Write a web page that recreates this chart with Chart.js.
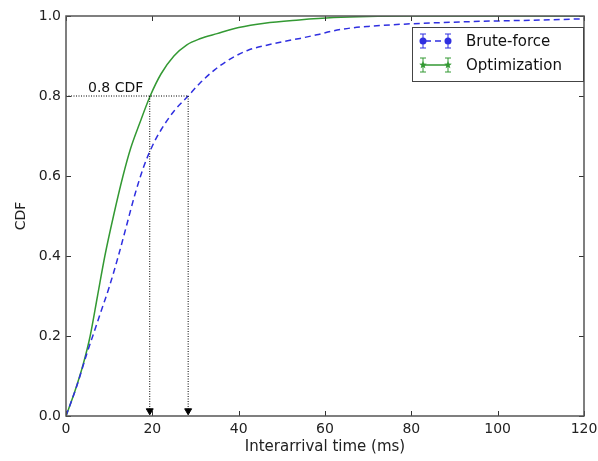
<!DOCTYPE html>
<html>
<head>
<meta charset="utf-8">
<script src="https://cdn.jsdelivr.net/npm/chart.js@4"></script>
<style>
  html, body { margin: 0; padding: 0; background: #fff; }
  #wrap { width: 598px; height: 461px; }
</style>
</head>
<body>
<div id="wrap"><canvas id="graph" width="598" height="461"></canvas></div>
<script>
// values
const optX = [0, 2, 4, 5.6, 7.3, 9, 11, 13.2, 15, 17, 19.5, 22, 25, 28, 31, 35, 40, 46, 54, 62, 70, 80, 120];
const optY = [0, 0.06, 0.13, 0.2, 0.3, 0.4, 0.5, 0.6, 0.67, 0.73, 0.8, 0.855, 0.9, 0.928, 0.943, 0.956, 0.971, 0.982, 0.99, 0.996, 0.999, 1.0, 1.0];

const bruteX = [0, 2.5, 4.8, 6.2, 8, 10, 12, 14, 16, 18, 20, 22, 25, 28.3, 31, 34.5, 38.3, 42.3, 46.5, 50.3, 54.2, 58.1, 62, 66, 70, 79, 94, 110, 120];
const bruteY = [0, 0.075, 0.155, 0.2, 0.258, 0.322, 0.395, 0.475, 0.555, 0.623, 0.675, 0.715, 0.762, 0.8, 0.832, 0.866, 0.894, 0.915, 0.927, 0.936, 0.944, 0.953, 0.963, 0.97, 0.974, 0.98, 0.986, 0.99, 0.993];

const xTicks = [0, 20, 40, 60, 80, 100, 120];
const yTicks = [0.0, 0.2, 0.4, 0.6, 0.8, 1.0];

const cdfLevel = 0.8;
const optAt80 = 19.4;
const bruteAt80 = 28.3;
const annotText = '0.8 CDF';

const FONT = 'DejaVu Sans';
const BLUE = '#2f2fe0';
const GREEN = '#339933';

function toPoints(xs, ys) {
    return xs.map((x, i) => ({ x: x, y: ys[i] }));
}

// inward ticks on all four sides plus the frame, matplotlib style
const framePlugin = {
    id: 'frame',
    afterDatasetsDraw(chart) {
        const ctx = chart.ctx;
        const a = chart.chartArea;
        const xs = chart.scales.x, ys = chart.scales.y;
        ctx.save();
        ctx.strokeStyle = '#333';
        ctx.lineWidth = 1;
        xTicks.forEach(v => {
            const px = Math.round(xs.getPixelForValue(v)) + 0.5;
            ctx.beginPath();
            ctx.moveTo(px, a.bottom); ctx.lineTo(px, a.bottom - 5);
            ctx.moveTo(px, a.top); ctx.lineTo(px, a.top + 5);
            ctx.stroke();
        });
        yTicks.forEach(v => {
            const py = Math.round(ys.getPixelForValue(v)) + 0.5;
            ctx.beginPath();
            ctx.moveTo(a.left, py); ctx.lineTo(a.left + 5, py);
            ctx.moveTo(a.right, py); ctx.lineTo(a.right - 5, py);
            ctx.stroke();
        });
        ctx.strokeStyle = '#555';
        ctx.lineWidth = 1.5;
        ctx.strokeRect(a.left, a.top, a.right - a.left, a.bottom - a.top);

        // annotation text
        ctx.fillStyle = '#111';
        ctx.font = '14px "' + FONT + '"';
        ctx.textBaseline = 'alphabetic';
        ctx.fillText(annotText, xs.getPixelForValue(5.1), ys.getPixelForValue(cdfLevel) - 4);

        // legend
        const bx = 412, by = 27, bw = 171, bh = 54;
        ctx.fillStyle = '#fff';
        ctx.fillRect(bx, by, bw, bh);
        ctx.strokeStyle = '#444';
        ctx.lineWidth = 1;
        ctx.strokeRect(bx + 0.5, by + 0.5, bw, bh);

        const entries = [
            { label: 'Brute-force', color: BLUE, marker: 'circle', dash: [6, 4], y: by + 14 },
            { label: 'Optimization', color: GREEN, marker: 'star', dash: [], y: by + 38 }
        ];
        entries.forEach(e => {
            ctx.strokeStyle = e.color;
            ctx.fillStyle = e.color;
            ctx.lineWidth = 1.5;
            ctx.setLineDash(e.dash);
            ctx.lineDashOffset = -2;
            ctx.beginPath();
            ctx.moveTo(423, e.y); ctx.lineTo(448, e.y);
            ctx.stroke();
            ctx.setLineDash([]);
            [423, 448].forEach(mx => {
                ctx.lineWidth = 1;
                ctx.beginPath();
                ctx.moveTo(mx, e.y - 7); ctx.lineTo(mx, e.y + 7);
                ctx.moveTo(mx - 3, e.y - 7); ctx.lineTo(mx + 3, e.y - 7);
                ctx.moveTo(mx - 3, e.y + 7); ctx.lineTo(mx + 3, e.y + 7);
                ctx.stroke();
                ctx.beginPath();
                if (e.marker === 'circle') {
                    ctx.arc(mx, e.y, 3.5, 0, Math.PI * 2);
                } else {
                    for (let k = 0; k < 10; k++) {
                        const r = k % 2 === 0 ? 4 : 1.7;
                        const ang = -Math.PI / 2 + k * Math.PI / 5;
                        const px = mx + r * Math.cos(ang), py = e.y + r * Math.sin(ang);
                        if (k === 0) ctx.moveTo(px, py); else ctx.lineTo(px, py);
                    }
                    ctx.closePath();
                }
                ctx.fill();
            });
            ctx.fillStyle = '#111';
            ctx.font = '15px "' + FONT + '"';
            ctx.textBaseline = 'middle';
            ctx.fillText(e.label, 466, e.y + 1);
        });
        ctx.restore();
    }
};

const dotted = {
    borderColor: '#000',
    borderWidth: 1,
    borderDash: [1, 1.5],
    pointRadius: 0,
    fill: false,
    tension: 0
};

new Chart(document.getElementById('graph').getContext('2d'), {
    type: 'line',
    data: {
        datasets: [
            Object.assign({}, dotted, {
                label: 'hline',
                data: [{ x: 0, y: cdfLevel }, { x: bruteAt80, y: cdfLevel }]
            }),
            Object.assign({}, dotted, {
                label: 'arrow1',
                data: [{ x: optAt80, y: cdfLevel }, { x: optAt80, y: 0.013 }],
                pointRadius: [0, 4],
                pointStyle: 'triangle',
                rotation: 180,
                pointBackgroundColor: '#000',
                pointBorderColor: '#000'
            }),
            Object.assign({}, dotted, {
                label: 'arrow2',
                data: [{ x: bruteAt80, y: cdfLevel }, { x: bruteAt80, y: 0.013 }],
                pointRadius: [0, 4],
                pointStyle: 'triangle',
                rotation: 180,
                pointBackgroundColor: '#000',
                pointBorderColor: '#000'
            }),
            {
                label: 'Brute-force',
                data: toPoints(bruteX, bruteY),
                borderColor: BLUE,
                borderWidth: 1.5,
                borderDash: [6, 4],
                pointRadius: 0,
                fill: false,
                cubicInterpolationMode: 'monotone'
            },
            {
                label: 'Optimization',
                data: toPoints(optX, optY),
                borderColor: GREEN,
                borderWidth: 1.5,
                pointRadius: 0,
                fill: false,
                cubicInterpolationMode: 'monotone'
            }
        ]
    },
    options: {
        responsive: false,
        animation: false,
        layout: { padding: { top: 16, right: 14, left: 0, bottom: 0 } },
        plugins: {
            legend: { display: false },
            tooltip: { enabled: false }
        },
        scales: {
            x: {
                type: 'linear',
                min: 0,
                max: 120,
                afterFit(scale) {
                    scale.height = 45;
                    scale.paddingLeft = 0;
                    scale.paddingRight = 0;
                },
                afterBuildTicks(scale) { scale.ticks = xTicks.map(v => ({ value: v })); },
                grid: { display: false, drawTicks: false },
                border: { display: false },
                ticks: {
                    padding: 5,
                    color: '#222',
                    font: { family: FONT, size: 14 },
                    maxRotation: 0
                },
                title: {
                    display: true,
                    text: 'Interarrival time (ms)',
                    color: '#222',
                    font: { family: FONT, size: 15 },
                    padding: { top: 0, bottom: 5 }
                }
            },
            y: {
                min: 0,
                max: 1,
                afterFit(scale) {
                    scale.width = 66;
                    scale.paddingTop = 0;
                    scale.paddingBottom = 0;
                },
                afterBuildTicks(scale) { scale.ticks = yTicks.map(v => ({ value: v })); },
                grid: { display: false, drawTicks: false },
                border: { display: false },
                ticks: {
                    padding: 5,
                    color: '#222',
                    font: { family: FONT, size: 14 },
                    callback: v => v.toFixed(1)
                },
                title: {
                    display: true,
                    text: 'CDF',
                    color: '#222',
                    font: { family: FONT, size: 14 },
                    padding: { top: 13, bottom: 0 }
                }
            }
        }
    },
    plugins: [framePlugin]
});
</script>
</body>
</html>
